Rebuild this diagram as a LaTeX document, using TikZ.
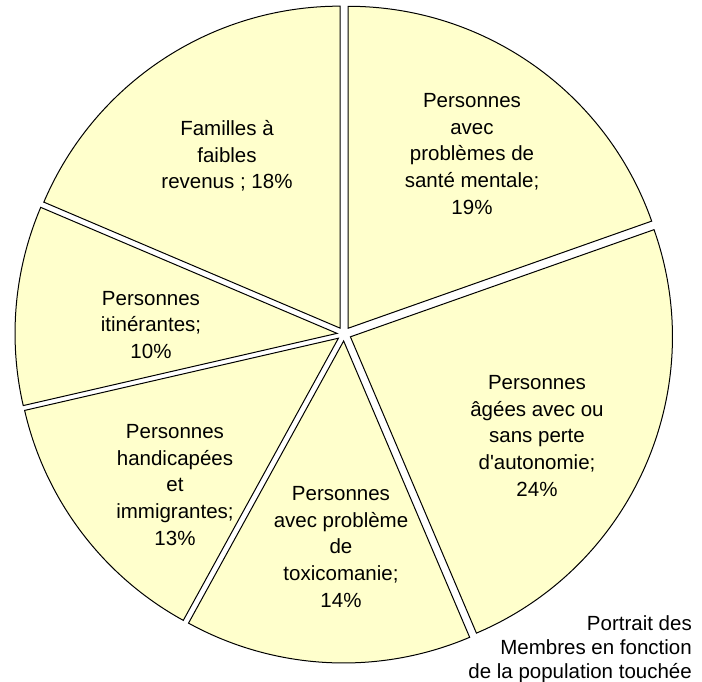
\documentclass[tikz,border=0pt]{standalone}
\usepackage{fontspec}
\setmainfont{Liberation Sans}
\definecolor{slicefill}{HTML}{FFFFCC}
\newcommand\pieslice[2]{%
  \pgfmathsetmacro\pmid{(#1+#2)/2}%
  \filldraw[slicestyle] ([shift={(\pmid:\D)}]c) -- ++(#1:\R) arc[start angle=#1, end angle=#2, radius=\R] -- cycle;%
}
\begin{document}
\begin{tikzpicture}[x=1pt,y=1pt,
  slicestyle/.style={draw=black, line width=1pt, fill=slicefill, line join=miter},
  lbl/.style={align=center, font=\fontsize{20.5}{26.6}\selectfont, inner sep=0pt, text=black}]
\useasboundingbox (0,0) rectangle (702,682);
\def\R{322}
\def\D{7}
\coordinate (c) at (344,348);
\pieslice{19.44}{90}
\pieslice{-66.96}{19.44}
\pieslice{-118.8}{-66.96}
\pieslice{-167.04}{-118.8}
\pieslice{156.96}{192.96}
\pieslice{90}{156.96}
\node[lbl] (fam) at (227,526) {Familles à\\faibles\\revenus ; 18\%};
\node[lbl] (ment) at (472,528) {Personnes\\avec\\problèmes de\\santé mentale;\\19\%};
\node[lbl] (itin) at (151,357) {Personnes\\itinérantes;\\10\%};
\node[lbl] (hand) at (175,197) {Personnes\\handicapées\\et\\immigrantes;\\13\%};
\node[lbl] (toxi) at (341,135) {Personnes\\avec problème\\de\\toxicomanie;\\14\%};
\node[lbl] (ages) at (537,246) {Personnes\\âgées avec ou\\sans perte\\d\textquotesingle autonomie;\\24\%};
\node[lbl, align=right, anchor=east, font=\fontsize{20.5}{24}\selectfont] (titre) at (692,33) {Portrait des\\Membres en fonction\\de la population touchée};
\end{tikzpicture}
\end{document}
